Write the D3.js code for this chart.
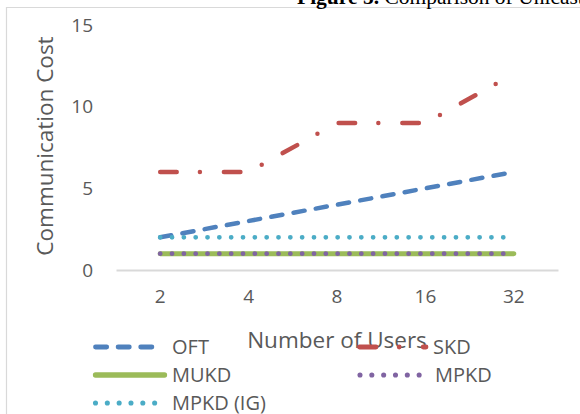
<!DOCTYPE html>
<html>
<head>
<meta charset="utf-8">
<script src="https://cdn.jsdelivr.net/npm/d3@7"></script>
<style>
  html, body { margin: 0; padding: 0; background: #fff; }
  svg { display: block; }
</style>
</head>
<body>
<svg id="chart" width="580" height="414"></svg>
<script>
// Communication cost by number of users
const categories = ["2", "4", "8", "16", "32"];
const oft     = [2, 3, 4, 5, 6];
const skd     = [6, 6, 9, 9, 12];
const mukd    = [1, 1, 1, 1, 1];
const mpkd    = [1, 1, 1, 1, 1];
const mpkdIG  = [2, 2, 2, 2, 2];
const yTicks  = [0, 5, 10, 15];

const seriesNames = ["OFT", "SKD", "MUKD", "MPKD", "MPKD (IG)"];
const seriesValues = [oft, skd, mukd, mpkd, mpkdIG];

const styles = {
  "OFT":       { color: "#4F81BD", width: 4.5, dash: "11.2,11.4" },
  "SKD":       { color: "#C0504D", width: 4.5, dash: "16.5,23.2,0,24" },
  "MUKD":      { color: "#9BBB59", width: 5,   dash: null },
  "MPKD":      { color: "#8064A2", width: 4.8, dash: "0,11.83" },
  "MPKD (IG)": { color: "#4BACC6", width: 4.8, dash: "0,11.83" }
};

const svg = d3.select("#chart");
const font = "'Open Sans', sans-serif";
const textColor = "#595959";

// outer chart frame
svg.append("path")
  .attr("d", "M6.5,414 L6.5,7.5 L580,7.5")
  .attr("fill", "none")
  .attr("stroke", "#d9d9d9")
  .attr("stroke-width", 1.2);

// caption above the frame (runs past the right edge)
const cap = svg.append("text")
  .attr("x", 297).attr("y", 4)
  .attr("font-family", "'Liberation Serif', 'Times New Roman', serif")
  .attr("font-size", 21.5)
  .attr("fill", "#000");
cap.append("tspan").attr("font-weight", "bold").text("Figure 5.");
cap.append("tspan").text(" Comparison of Unicast");

const x = d3.scaleBand().domain(categories).range([116, 558]);
const y = d3.scaleLinear().domain([0, 15]).range([270, 25]);

// category axis
const xAxis = svg.append("g")
  .attr("transform", `translate(0,${y(0)})`)
  .call(d3.axisBottom(x).tickSize(0).tickPadding(20));
xAxis.select(".domain").attr("stroke", "#d9d9d9").attr("stroke-width", 1.8);
xAxis.selectAll("text")
  .attr("font-family", font).attr("font-size", 19).attr("fill", textColor);

// value axis (labels only)
const yAxis = svg.append("g")
  .attr("transform", `translate(93,0)`)
  .call(d3.axisLeft(y).tickValues(yTicks).tickSize(0).tickPadding(0));
yAxis.select(".domain").remove();
yAxis.selectAll("text")
  .attr("font-family", font).attr("font-size", 19).attr("fill", textColor);

// axis titles
svg.append("text")
  .attr("transform", "translate(45,146) rotate(-90)")
  .attr("text-anchor", "middle")
  .attr("dy", "0.35em")
  .attr("font-family", font).attr("font-size", 22.5).attr("fill", textColor)
  .text("Communication Cost");

svg.append("text")
  .attr("x", 337).attr("y", 340)
  .attr("text-anchor", "middle")
  .attr("dy", "0.35em")
  .attr("font-family", font).attr("font-size", 22.5).attr("fill", textColor)
  .text("Number of Users");

// series lines
const line = d3.line()
  .x((d, i) => x(categories[i]) + x.bandwidth() / 2)
  .y(d => y(d));

const drawOrder = ["OFT", "SKD", "MUKD", "MPKD", "MPKD (IG)"];
drawOrder.forEach(name => {
  const s = styles[name];
  const vals = seriesValues[seriesNames.indexOf(name)];
  svg.append("path")
    .datum(vals)
    .attr("d", line)
    .attr("fill", "none")
    .attr("stroke", s.color)
    .attr("stroke-width", s.width)
    .attr("stroke-linecap", "round")
    .attr("stroke-linejoin", "round")
    .attr("stroke-dasharray", s.dash);
});

// legend
const legendItems = [
  { name: "OFT",       x0: 95.5,  x1: 155,   y: 347, tx: 172 },
  { name: "SKD",       x0: 359.5, x1: 426,   y: 347, tx: 433 },
  { name: "MUKD",      x0: 95.5,  x1: 164.5, y: 375, tx: 172 },
  { name: "MPKD",      x0: 360,   x1: 420,   y: 375, tx: 435 },
  { name: "MPKD (IG)", x0: 95.5,  x1: 155.5, y: 403, tx: 172 }
];
const lg = svg.append("g");
legendItems.forEach(it => {
  const s = styles[it.name];
  lg.append("line")
    .attr("x1", it.x0).attr("x2", it.x1)
    .attr("y1", it.y).attr("y2", it.y)
    .attr("stroke", s.color)
    .attr("stroke-width", s.width + 0.3)
    .attr("stroke-linecap", "round")
    .attr("stroke-dasharray", s.dash);
  lg.append("text")
    .attr("x", it.tx).attr("y", it.y)
    .attr("dy", "0.36em")
    .attr("font-family", font).attr("font-size", 20).attr("fill", textColor)
    .text(it.name);
});
</script>
</body>
</html>
